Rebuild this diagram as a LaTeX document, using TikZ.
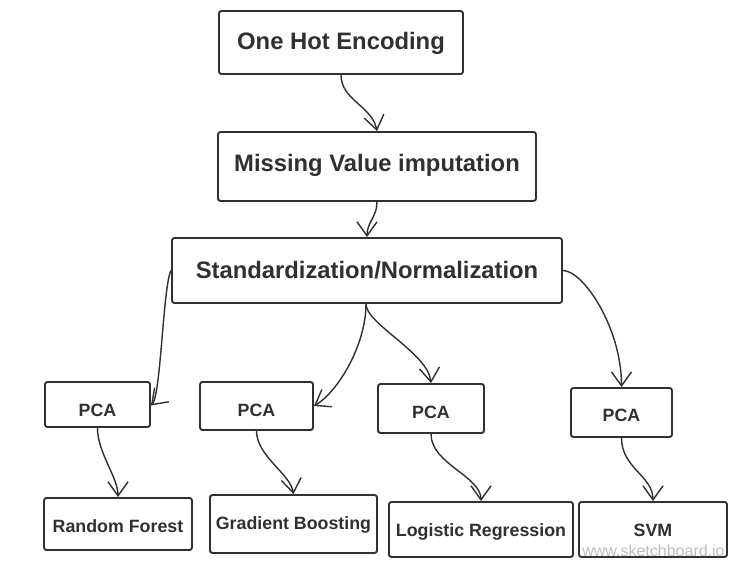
\documentclass[tikz,border=0pt]{standalone}
\usepackage{fontspec}
\setmainfont{Liberation Sans}
\usetikzlibrary{arrows.meta}
\definecolor{ink}{RGB}{48,48,48}
\definecolor{mark}{RGB}{190,190,190}
\tikzset{
  box/.style={draw=ink, line width=1.9pt, rounded corners=2.5pt, inner sep=0pt,
    text=ink, text depth=0pt, align=center},
  bigbox/.style={box, font=\fontsize{23.8}{28}\selectfont\bfseries},
  smallbox/.style={box, font=\fontsize{17.8}{21}\selectfont\bfseries},
  arr/.style={draw=ink, line width=1.4pt, -{Straight Barb[length=14pt,width=20pt,line width=1.4pt]}},
}
\begin{document}
\begin{tikzpicture}[x=1pt, y=-1pt]
\useasboundingbox[fill=white] (0,0) rectangle (740,572);
% top chain
\node[bigbox, minimum width=244pt, minimum height=63pt, text height=13.6pt] (ohe) at (341,42.5) {One Hot Encoding};
\node[bigbox, minimum width=318pt, minimum height=69pt, text height=10.6pt] (miss) at (377,166.5) {Missing Value imputation};
\node[bigbox, minimum width=390pt, minimum height=65pt, text height=16pt] (std) at (367,270.5) {Standardization/Normalization};
% PCA row
\node[smallbox, minimum width=105pt, minimum height=45pt, text height=23.2pt] (p1) at (97.5,404.5) {PCA};
\node[smallbox, minimum width=113pt, minimum height=48pt, text height=20.1pt] (p2) at (256.5,406) {PCA};
\node[smallbox, minimum width=106pt, minimum height=49pt, text height=19.1pt] (p3) at (431,408.5) {PCA};
\node[smallbox, minimum width=101pt, minimum height=49pt, text height=18.4pt] (p4) at (621.5,412.5) {PCA};
% models
\node[smallbox, minimum width=148pt, minimum height=52pt, text height=17.4pt] (rf) at (118,524) {Random Forest};
\node[smallbox, minimum width=167pt, minimum height=58pt, text height=11.4pt] (gb) at (293.5,524) {Gradient Boosting};
\node[smallbox, minimum width=184pt, minimum height=55pt, text height=13.75pt] (lr) at (481,529.5) {Logistic Regression};
\node[smallbox, minimum width=148pt, minimum height=55pt, text height=13.75pt] (svm) at (653,529.5) {SVM};
% connectors
\draw[arr] (ohe.south) .. controls +(0,25) and +(-5,-25) .. (miss.north);
\draw[arr] (miss.south) .. controls +(0,15) and +(0,-15) .. (std.north);
\draw[arr] (std.west) .. controls +(-8,15) and +(10,-10) .. ([yshift=-1pt]p1.east);
\draw[arr] ([xshift=-1pt]std.south) .. controls +(0,40) and +(25,-15) .. (p2.east);
\draw[arr] ([xshift=-1pt]std.south) .. controls +(0,20) and +(-3,-30) .. (p3.north);
\draw[arr] (std.east) .. controls +(20,0) and +(0,-60) .. (p4.north);
\draw[arr] (p1.south) .. controls +(0,25) and +(0,-20) .. (rf.north);
\draw[arr] (p2.south) .. controls +(0,25) and +(-3,-20) .. (gb.north);
\draw[arr] (p3.south) .. controls +(0,30) and +(0,-25) .. (lr.north);
\draw[arr] (p4.south) .. controls +(0,30) and +(0,-25) .. (svm.north);
% watermark
\node[text=mark, font=\fontsize{16}{18}\selectfont, inner sep=0pt] (wm) at (653.5,551) {www.sketchboard.io};
\end{tikzpicture}
\end{document}
